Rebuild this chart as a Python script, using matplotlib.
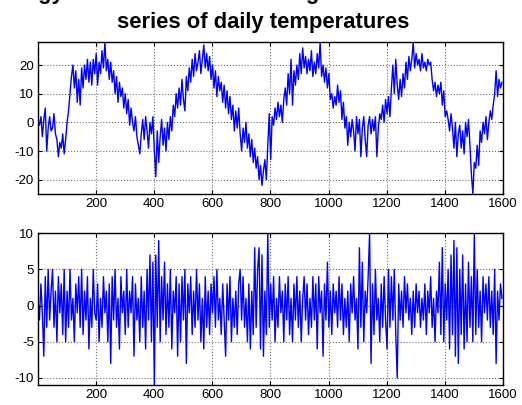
import numpy as np
import matplotlib
matplotlib.use('Agg')
import matplotlib.pyplot as plt

plt.rcParams['font.family'] = ['Liberation Sans', 'DejaVu Sans']
plt.rcParams['axes.unicode_minus'] = False

# ------------------------------------------------------------------
# data (one value every 5 days)
# ------------------------------------------------------------------
days = np.arange(1, 1601, 5)

temps = [
    0, -1, 2, -5, 1, 5, -10, -2, 2, -3,
    -2, 3, -4, -6, -12, -7, -9, -4, -11, -6,
    0, 4, 10, 16, 20, 12, 18, 7, 15, 6,
    19, 12, 20, 15, 22, 14, 21, 13, 22, 17,
    24, 13, 21, 17, 25, 19, 28, 18, 22, 15,
    21, 14, 18, 10, 16, 7, 14, 9, 12, 5,
    10, 3, 8, -1, 5, 0, -3, 2, -5, -8,
    -11, -4, 1, -6, 2, -3, -9, 0, -4, 2,
    -10, -19, -3, -14, -5, 1, -8, -2, -10, 0,
    -6, 2, -3, 6, 2, 10, 5, 12, 6, 15,
    8, 4, 16, 11, 19, 14, 22, 16, 24, 18,
    21, 25, 17, 22, 27, 19, 24, 18, 23, 15,
    20, 12, 18, 9, 16, 11, 14, 7, 13, 5,
    11, 3, 9, 1, 6, -3, 4, -2, 5, -4,
    -10, -2, -7, 0, -9, -4, -12, -6, -14, -9,
    -16, -12, -20, -15, -22, -17, -13, -20, -8, 3,
    -13, 2, -1, 5, 1, 7, 2, 6, 0, 8,
    12, 6, 17, 10, 22, 6, 18, 13, 20, 15,
    24, 17, 26, 19, 23, 17, 22, 18, 25, 16,
    21, 17, 24, 19, 28, 16, 20, 14, 19, 12,
    17, 8, 10, 5, 9, 6, 13, 7, 11, 1,
    7, -2, 2, -8, 0, -5, 1, -3, -10, 2,
    -4, 1, -12, -2, 2, -6, -12, -1, 2, -4,
    1, -3, 2, -12, -2, 3, 1, 6, 0, 8,
    3, 9, 2, 12, 20, 10, 22, 13, 8, 15,
    9, 17, 12, 21, 15, 23, 18, 22, 28, 19,
    24, 20, 22, 18, 24, 19, 21, 18, 22, 20,
    21, 15, 11, 14, 9, 13, 10, 14, 6, 11,
    2, 4, 1, -3, 3, -2, -9, 0, -12, -4,
    -1, -9, -3, -11, 0, -5, 1, -8, -18, -25,
    -14, -16, -8, -15, -3, -7, 0, -4, 2, -6,
    0, 4, 1, 6, 10, 18, 9, 15, 12, 14,
]

anoms = [
    1, -2, 3, -1, -7, 4, -3, 5, -2, 2,
    5, -3, 2, -5, 4, -1, 3, -4, 5, -5,
    2, -3, 5, -2, 1, -5, 3, -1, 4, -3,
    5, -4, 2, -2, 4, -6, 1, -3, 5, -1,
    -2, 3, -5, 1, -3, 4, -1, 2, -5, 3,
    -8, 4, -2, 5, -3, 1, -6, 4, -1, 2,
    -4, 5, -3, 2, -1, 4, -7, 3, -2, 1,
    -5, 4, -3, 2, -6, 5, -2, 7, -5, 6,
    -11, 7, -3, 9, -5, 4, -2, 6, -4, 3,
    -3, 5, -6, 2, -1, 4, -7, 3, -5, 4,
    -2, 5, -8, 3, -1, 4, -4, 2, -3, 5,
    -2, 3, -5, 1, -6, 4, -3, 2, -4, 3,
    -1, 4, -3, 5, -2, 1, -4, 3, -2, -7,
    3, -2, 4, -5, 1, -3, 2, -4, 3, 5,
    -2, 4, -3, 1, -5, 3, -6, 2, -4, 8,
    -3, 5, 8, -6, 7, -7, 2, -4, 10, -3,
    3, -2, 4, -5, 1, -3, 4, -1, 2, -5,
    3, -2, 4, -4, 1, -5, 3, -2, 4, -3,
    2, -5, 1, 4, -2, 3, -4, 1, -3, 4,
    -2, 3, -6, 4, -1, 2, -7, 3, -2, 6,
    -3, 2, -4, 3, -1, 2, -3, 4, -2, 3,
    -4, 1, -3, 2, -5, 3, -1, 4, -2, 1,
    -6, 8, -3, 6, -5, 2, -1, 4, 10, -8,
    3, -4, 5, -2, 1, -5, 3, -3, 4, -2,
    -6, 5, -3, 4, -2, 5, -4, -10, 3, -2,
    2, -3, 4, -1, 3, -2, 1, -4, 2, -3,
    3, -1, 2, -3, 1, -2, 3, -4, 2, -1,
    4, -3, 1, -5, 2, -1, 6, -4, 8, -5,
    3, -2, 5, -6, 7, -4, 9, -7, 8, -8,
    5, -4, 7, -6, 3, -5, 6, -3, 4, -5,
    10, -4, 5, -3, 2, -5, 4, -1, 3, -2,
    4, -3, 2, -4, 5, -8, 2, -2, 3, 1,
]

xticks = [200, 400, 600, 800, 1000, 1200, 1400, 1600]
yticks_top = [-20, -10, 0, 10, 20]
yticks_bot = [-10, -5, 0, 5, 10]

title_top = 'Climatology fitted with harmonic regression and anomaly time'
title_bottom = 'series of daily temperatures'

# ------------------------------------------------------------------
fig = plt.figure(figsize=(5.22, 4.05), dpi=100)
ax1 = fig.add_axes([0.0728, 0.521, 0.891, 0.375])
ax2 = fig.add_axes([0.0728, 0.049, 0.891, 0.375])

for ax, y, yt in [(ax1, temps, yticks_top), (ax2, anoms, yticks_bot)]:
    ax.plot(days, y, color='#0000ff', linewidth=1.0)
    ax.set_xlim(1, 1600)
    ax.set_ylim(min(y), max(y))
    ax.set_xticks(xticks)
    ax.set_yticks(yt)
    ax.grid(True, linestyle=':', color='0.45', linewidth=0.8)
    ax.tick_params(direction='in', length=3, top=True, right=True,
                   labelsize=9.5, pad=3)
    for s in ax.spines.values():
        s.set_linewidth(1.0)

# two-line title, the first line runs off the top of the figure
fig.text(0.505, 1 + 1/405, title_top, ha='center', va='baseline',
         fontsize=15.8, fontweight='bold')
fig.text(0.505, 1 - 28/405, title_bottom, ha='center', va='baseline',
         fontsize=15.8, fontweight='bold')

fig.savefig('out.png', dpi=100)
